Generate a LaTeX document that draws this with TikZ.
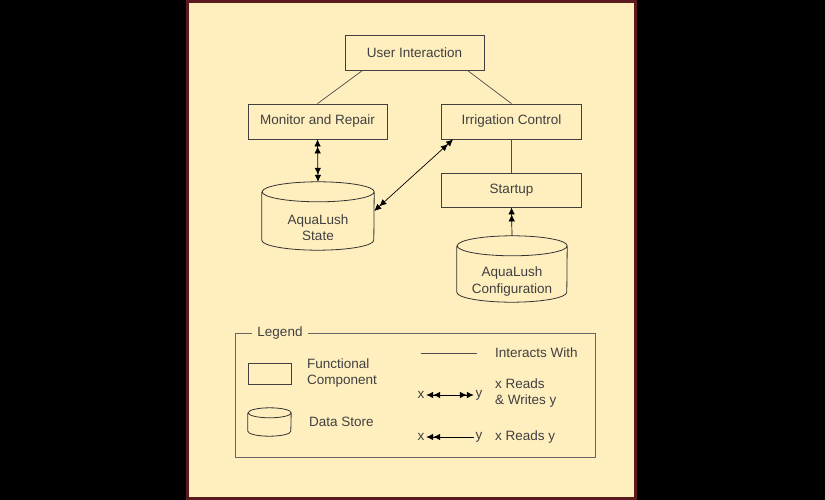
\documentclass[tikz,border=0pt]{standalone}
\usepackage{fontspec}
\setmainfont{Liberation Sans}
\usetikzlibrary{arrows.meta}
\definecolor{panelbg}{HTML}{FFEFBF}
\definecolor{panelrim}{HTML}{5A1A1E}
\tikzset{%
    dbl/.tip={Latex[length=7pt,width=6.5pt] Latex[length=7pt,width=6.5pt]}
}
\begin{document}
\begin{tikzpicture}[
        x=1pt, y=-1pt,
        font=\fontsize{13.5}{16.5}\selectfont,
        comp/.style={rectangle,draw=black!75,line width=0.8pt,fill=panelbg,text=black!75,inner sep=0pt},
        store/.style={rectangle,inner sep=0pt},
        storeline/.style={draw=black!80,line width=0.8pt},
        txt/.style={inner sep=0pt,text=black!75,align=center},
        lbl/.style={anchor=west,inner sep=0pt,text=black!75,align=left},
        edge/.style={draw=black!70,line width=0.7pt},
        rw/.style={draw=black,line width=0.7pt,dbl-dbl},
        rd/.style={draw=black,line width=0.7pt,dbl-}
        ]
        \useasboundingbox (0,0) rectangle (825,500);
        \fill[black] (0,0) rectangle (825,500);
        \draw[draw=panelrim,line width=3pt,fill=panelbg] (187.5,1.5) rectangle (635.5,498.5);

        \node[comp,minimum width=139pt,minimum height=35pt] (ui) at (414.5,52.5) {User Interaction};
        \node[comp,minimum width=139pt,minimum height=35pt] (mon) at (317.5,121.5) {Monitor and Repair};
        \node[comp,minimum width=140pt,minimum height=35pt] (irr) at (511.5,121.5) {Irrigation Control};
        \node[comp,minimum width=140pt,minimum height=34pt] (start) at (511.5,190) {Startup};

        \node[store,minimum width=112pt,minimum height=68pt] (state) at (318,216) {};
        \draw[storeline] ([yshift=-10pt]state.north west) -- ([yshift=10pt]state.south west)
            arc[start angle=180,end angle=360,x radius=56pt,y radius=10pt]
            -- ([yshift=-10pt]state.north east)
            arc[start angle=0,end angle=180,x radius=56pt,y radius=10pt]
            arc[start angle=180,end angle=360,x radius=56pt,y radius=10pt];
        \node[txt] (statetxt) at (318,227.5) {AquaLush\\State};

        \node[store,minimum width=110pt,minimum height=66pt] (conf) at (512,269) {};
        \draw[storeline] ([yshift=-10pt]conf.north west) -- ([yshift=10pt]conf.south west)
            arc[start angle=180,end angle=360,x radius=55pt,y radius=10pt]
            -- ([yshift=-10pt]conf.north east)
            arc[start angle=0,end angle=180,x radius=55pt,y radius=10pt]
            arc[start angle=180,end angle=360,x radius=55pt,y radius=10pt];
        \node[txt] (conftxt) at (512,281.5) {AquaLush\\Configuration};

        \draw[edge] ([xshift=18pt]ui.south west) -- (mon.north);
        \draw[edge] ([xshift=-17pt]ui.south east) -- (irr.north);
        \draw[edge] (irr.south) -- (start.north);
        \draw[rw] (mon.south) -- (state.north);
        \draw[rw] ([xshift=12pt]irr.south west) -- ([yshift=5pt]state.east);
        \draw[rd] (start.south) -- (conf.north);

        \draw[draw=black!60,line width=1pt] (235,333) rectangle (595,457);
        \node[fill=panelbg,inner sep=5pt,text=black!75] (legend) at (280,333) {Legend};

        \node[comp,minimum width=43pt,minimum height=21pt] (lcomp) at (269.5,373.5) {};
        \node[lbl] (lcomptxt) at (307,373) {Functional\\Component};
        \node[store,minimum width=43pt,minimum height=28pt] (lstore) at (269.5,422) {};
        \draw[storeline] ([yshift=-5pt]lstore.north west) -- ([yshift=5pt]lstore.south west)
            arc[start angle=180,end angle=360,x radius=21.5pt,y radius=5pt]
            -- ([yshift=-5pt]lstore.north east)
            arc[start angle=0,end angle=180,x radius=21.5pt,y radius=5pt]
            arc[start angle=180,end angle=360,x radius=21.5pt,y radius=5pt];
        \node[lbl] (lstoretxt) at (309,422) {Data Store};

        \coordinate (la) at (421,353);
        \coordinate (lb) at (477,353);
        \draw[edge,line width=1pt] (la) -- (lb);
        \node[lbl] (latxt) at (495,353) {Interacts With};

        \node[inner sep=1.5pt,text=black!75] (rwx) at (421,395) {x};
        \node[inner sep=1.5pt,text=black!75] (rwy) at (479,395) {y};
        \draw[rw,line width=1pt] (rwx) -- (rwy);
        \node[lbl] (rwtxt) at (495,393) {x Reads\\\& Writes y};

        \node[inner sep=1.5pt,text=black!75] (rdx) at (421,437) {x};
        \node[inner sep=1.5pt,text=black!75] (rdy) at (479,437) {y};
        \draw[rd,line width=1pt] (rdx) -- (rdy);
        \node[lbl] (rdtxt) at (495,437) {x Reads y};
    \end{tikzpicture}
\end{document}
